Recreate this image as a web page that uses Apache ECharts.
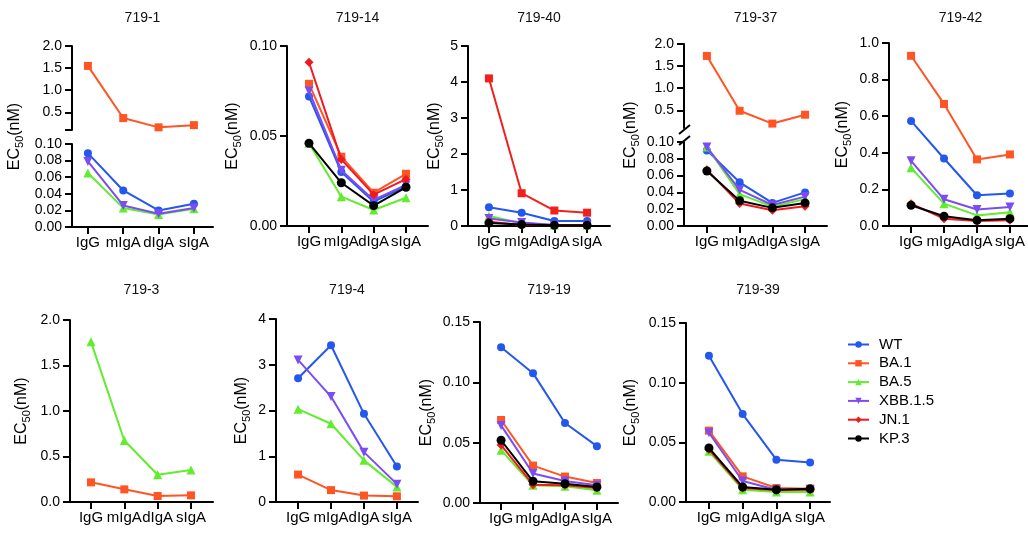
<!DOCTYPE html>
<html>
<head>
<meta charset="utf-8">
<script src="https://cdn.jsdelivr.net/npm/echarts@6/dist/echarts.min.js"></script>
<style>
html, body { margin: 0; padding: 0; background: #fff; }
#chart { width: 1028px; height: 534px; }
</style>
</head>
<body>
<div id="chart"></div>
<script>
'use strict';
// EC50 of each antibody in IgG / IgA formats, one panel per antibody
const categories = ['IgG', 'mIgA', 'dIgA', 'sIgA'];
const variants = ['WT', 'BA.1', 'BA.5', 'XBB.1.5', 'JN.1', 'KP.3'];

// rows follow `variants`, null = not shown for that antibody
const ec50_719_1 = [[0.089, 0.044, 0.020, 0.028], [1.55, 0.37, 0.16, 0.21], [0.065, 0.023, 0.015, 0.022], [0.079, 0.026, 0.016, 0.023], null, null];
const ec50_719_14 = [[0.072, 0.030, 0.0135, 0.022], [0.079, 0.0385, 0.0185, 0.029], [0.046, 0.0163, 0.0089, 0.0157], [0.075, 0.031, 0.0145, 0.0228], [0.091, 0.037, 0.0174, 0.026], [0.046, 0.024, 0.0113, 0.0215]];
const ec50_719_40 = [[0.52, 0.37, 0.14, 0.14], [4.10, 0.91, 0.43, 0.37], [0.28, 0.075, 0.03, 0.03], [0.21, 0.10, 0.03, 0.03], [0.12, 0.03, 0.02, 0.02], [0.08, 0.04, 0.02, 0.02]];
const ec50_719_37 = [[0.090, 0.052, 0.0275, 0.040], [1.73, 0.49, 0.20, 0.40], [0.094, 0.038, 0.023, 0.032], [0.094, 0.043, 0.025, 0.035], [0.067, 0.0267, 0.0188, 0.0235], [0.0655, 0.030, 0.0216, 0.0275]];
const ec50_719_42 = [[0.574, 0.369, 0.168, 0.177], [0.93, 0.667, 0.364, 0.391], [0.318, 0.122, 0.058, 0.075], [0.356, 0.146, 0.09, 0.104], [0.122, 0.04, 0.027, 0.031], [0.113, 0.053, 0.031, 0.04]];
const ec50_719_3 = [null, [0.216, 0.139, 0.066, 0.073], [1.76, 0.676, 0.30, 0.351], null, null, null];
const ec50_719_4 = [[2.705, 3.425, 1.927, 0.778], [0.60, 0.26, 0.14, 0.125], [2.03, 1.71, 0.91, 0.33], [3.105, 2.305, 1.09, 0.39], null, null];
const ec50_719_19 = [[0.129, 0.1076, 0.0663, 0.0471], [0.0688, 0.031, 0.0219, 0.0166], [0.0438, 0.0147, 0.0139, 0.0105], [0.0643, 0.0244, 0.0183, 0.0147], [0.048, 0.0152, 0.0147, 0.0125], [0.052, 0.018, 0.016, 0.0133]];
const ec50_719_39 = [[0.1226, 0.0737, 0.0355, 0.0332], [0.0598, 0.0215, 0.0117, 0.0112], [0.0425, 0.0103, 0.0084, 0.0084], [0.058, 0.0176, 0.0103, 0.0103], [0.0439, 0.0117, 0.0098, 0.0103], [0.0453, 0.0126, 0.0103, 0.011]];

// y tick labels (broken axes have an upper and a lower part)
const yTicks_719_1_hi = ['0.5', '1.0', '1.5', '2.0'];
const yTicks_719_1_lo = ['0.00', '0.02', '0.04', '0.06', '0.08', '0.10'];
const yTicks_719_14 = ['0.00', '0.05', '0.10'];
const yTicks_719_40 = ['0', '1', '2', '3', '4', '5'];
const yTicks_719_37_hi = ['0.5', '1.0', '1.5', '2.0'];
const yTicks_719_37_lo = ['0.00', '0.02', '0.04', '0.06', '0.08', '0.10'];
const yTicks_719_42 = ['0.0', '0.2', '0.4', '0.6', '0.8', '1.0'];
const yTicks_719_3 = ['0.0', '0.5', '1.0', '1.5', '2.0'];
const yTicks_719_4 = ['0', '1', '2', '3', '4'];
const yTicks_719_19 = ['0.00', '0.05', '0.10', '0.15'];
const yTicks_719_39 = ['0.00', '0.05', '0.10', '0.15'];

const colors = ['#2457EE', '#FF5424', '#62EC2E', '#7B4CF2', '#F01A1D', '#000000'];
const symbols = ['circle', 'rect', 'triangle', 'triangle', 'diamond', 'circle'];
const symbolRotate = [0, 0, 0, 180, 0, 0];
const symbolSize = [8, 8, 9, 9, 9, 9];

const FONT = '"Liberation Sans", Arial, Helvetica, sans-serif';

// panel placement (px), brk = value where the axis is cut
const panels = [
    { title: '719-1', data: ec50_719_1, ticks: yTicks_719_1_lo, hiTicks: yTicks_719_1_hi, brk: 0.1, endTick: true,
      left: 72, right: 213, top: 46, bottom: 227, hiBottom: 130, loTop: 144, xMin: -0.45, xMax: 3.54, nameGap: 47, titleY: 18 },
    { title: '719-14', data: ec50_719_14, ticks: yTicks_719_14,
      left: 287, right: 428, top: 46, bottom: 226, xMin: -0.68, xMax: 3.68, nameGap: 44, titleY: 18 },
    { title: '719-40', data: ec50_719_40, ticks: yTicks_719_40, recolor: { 1: '#F2201C' },
      left: 468, right: 610, top: 46, bottom: 226, xMin: -0.64, xMax: 3.70, nameGap: 23, titleY: 18 },
    { title: '719-37', data: ec50_719_37, ticks: yTicks_719_37_lo, hiTicks: yTicks_719_37_hi, brk: 0.1, slash: true,
      left: 684, right: 827, top: 44, bottom: 226, hiBottom: 128, loTop: 142, xMin: -0.70, xMax: 3.67, nameGap: 43, titleY: 18 },
    { title: '719-42', data: ec50_719_42, ticks: yTicks_719_42,
      left: 889, right: 1032, top: 43, bottom: 226, xMin: -0.67, xMax: 3.67, nameGap: 36, titleY: 18 },
    { title: '719-3', data: ec50_719_3, ticks: yTicks_719_3,
      left: 70, right: 213, top: 320, bottom: 502, xMin: -0.63, xMax: 3.66, nameGap: 38, titleY: 290 },
    { title: '719-4', data: ec50_719_4, ticks: yTicks_719_4,
      left: 276, right: 418, top: 319, bottom: 502, xMin: -0.67, xMax: 3.64, nameGap: 24, titleY: 290 },
    { title: '719-19', data: ec50_719_19, ticks: yTicks_719_19,
      left: 480, right: 618, top: 322, bottom: 503, xMin: -0.66, xMax: 3.66, nameGap: 43, titleY: 290 },
    { title: '719-39', data: ec50_719_39, ticks: yTicks_719_39,
      left: 686, right: 830, top: 323, bottom: 502, xMin: -0.68, xMax: 3.59, nameGap: 45, titleY: 290 }
];

const black = { color: '#000', width: 2 };
const yName = '{a|EC}{s|50}{a|(nM)}';
const yNameStyle = {
    color: '#000',
    rich: {
        a: { fontSize: 16, lineHeight: 20, fontFamily: FONT, color: '#000' },
        s: { fontSize: 11, lineHeight: 10, verticalAlign: 'bottom', fontFamily: FONT, color: '#000' }
    }
};

const grid = [], xAxis = [], yAxis = [], series = [], graphic = [];

const labelFor = (labels, v) => {
    const hit = labels.find(l => Math.abs(Number(l) - v) < 1e-9);
    return hit === undefined ? '' : hit;
};

function addGrid(p, top, bottom) {
    grid.push({ left: p.left, top: top, width: p.right - p.left, height: bottom - top, outerBoundsMode: 'none' });
    return grid.length - 1;
}

function addX(gi, p, visible) {
    const idx = categories.map((c, i) => i);
    xAxis.push({
        type: 'value', gridIndex: gi, min: p.xMin, max: p.xMax, show: visible,
        axisLine: { onZero: false, lineStyle: black },
        axisTick: { show: true, length: 7, lineStyle: black, customValues: idx },
        axisLabel: { customValues: idx, margin: 8, fontSize: 15, color: '#000', fontFamily: FONT,
            formatter: v => categories[v] },
        splitLine: { show: false }
    });
}

function addY(gi, labels, min, extraTick) {
    const vals = labels.map(Number);
    yAxis.push({
        type: 'value', gridIndex: gi, min: min, max: vals[vals.length - 1],
        axisLine: { show: true, onZero: false, lineStyle: black },
        axisTick: { show: true, length: 7, lineStyle: black,
            customValues: extraTick != null ? [extraTick].concat(vals) : vals },
        axisLabel: { customValues: vals, margin: 10, fontSize: 14, color: '#000', fontFamily: FONT,
            formatter: v => labelFor(labels, v) },
        splitLine: { show: false }
    });
}

function addSeries(gi, k, values, color) {
    const c = color || colors[k];
    series.push({
        type: 'line', name: variants[k], xAxisIndex: gi, yAxisIndex: gi,
        data: values.map((v, j) => [j, v]),
        symbol: symbols[k], symbolSize: symbolSize[k], symbolRotate: symbolRotate[k],
        itemStyle: { color: c },
        lineStyle: { color: c, width: 2 },
        emphasis: { disabled: true },
        z: 2 + k
    });
}

panels.forEach(p => {
    graphic.push({
        type: 'text', x: (p.left + p.right) / 2, y: p.titleY,
        style: { text: p.title, fontSize: 14, fontFamily: FONT, fill: '#111', align: 'center', verticalAlign: 'middle' }
    });
    const recolor = p.recolor || {};

    if (p.brk) {
        // upper part of the cut axis
        const gHi = addGrid(p, p.top, p.hiBottom);
        addX(gHi, p, false);
        addY(gHi, p.hiTicks, p.brk, p.endTick ? p.brk : null);
        // lower part
        const gLo = addGrid(p, p.loTop, p.bottom);
        addX(gLo, p, true);
        addY(gLo, p.ticks, 0, null);
        // name spans the whole height
        const gName = addGrid(p, p.top, p.bottom);
        xAxis.push({ type: 'value', gridIndex: gName, min: 0, max: 1, show: false });
        yAxis.push({
            type: 'value', gridIndex: gName, min: 0, max: 1,
            axisLine: { show: false }, axisTick: { show: false }, axisLabel: { show: false }, splitLine: { show: false },
            name: yName, nameLocation: 'middle', nameGap: p.nameGap, nameTextStyle: yNameStyle
        });
        p.data.forEach((values, k) => {
            if (!values) return;
            addSeries(Math.max.apply(null, values) > p.brk ? gHi : gLo, k, values, recolor[k]);
        });
        if (p.slash) {
            const x = p.left;
            graphic.push({ type: 'line', shape: { x1: x - 5, y1: p.hiBottom + 6, x2: x + 6, y2: p.hiBottom - 3 }, style: { stroke: '#000', lineWidth: 2 } });
            graphic.push({ type: 'line', shape: { x1: x - 5, y1: p.loTop + 3, x2: x + 6, y2: p.loTop - 6 }, style: { stroke: '#000', lineWidth: 2 } });
        }
    } else {
        const g = addGrid(p, p.top, p.bottom);
        addX(g, p, true);
        addY(g, p.ticks, 0, null);
        yAxis[g].name = yName;
        yAxis[g].nameLocation = 'middle';
        yAxis[g].nameGap = p.nameGap;
        yAxis[g].nameTextStyle = yNameStyle;
        p.data.forEach((values, k) => {
            if (values) addSeries(g, k, values, recolor[k]);
        });
    }
});

const chart = echarts.init(document.getElementById('chart'), null, { renderer: 'canvas' });
chart.setOption({
    animation: false,
    backgroundColor: '#fff',
    textStyle: { fontFamily: FONT },
    grid: grid,
    xAxis: xAxis,
    yAxis: yAxis,
    series: series,
    graphic: graphic,
    legend: {
        data: variants.map((n, k) => ({ name: n, itemStyle: { color: colors[k] }, lineStyle: { color: colors[k] } })),
        orient: 'vertical',
        left: 842,
        top: 332,
        itemWidth: 21,
        itemHeight: 8,
        itemGap: 3.8,
        selectedMode: false,
        textStyle: { fontSize: 15, color: '#000', fontFamily: FONT, lineHeight: 14, padding: [0, 0, 0, 5] }
    }
});
</script>
</body>
</html>
